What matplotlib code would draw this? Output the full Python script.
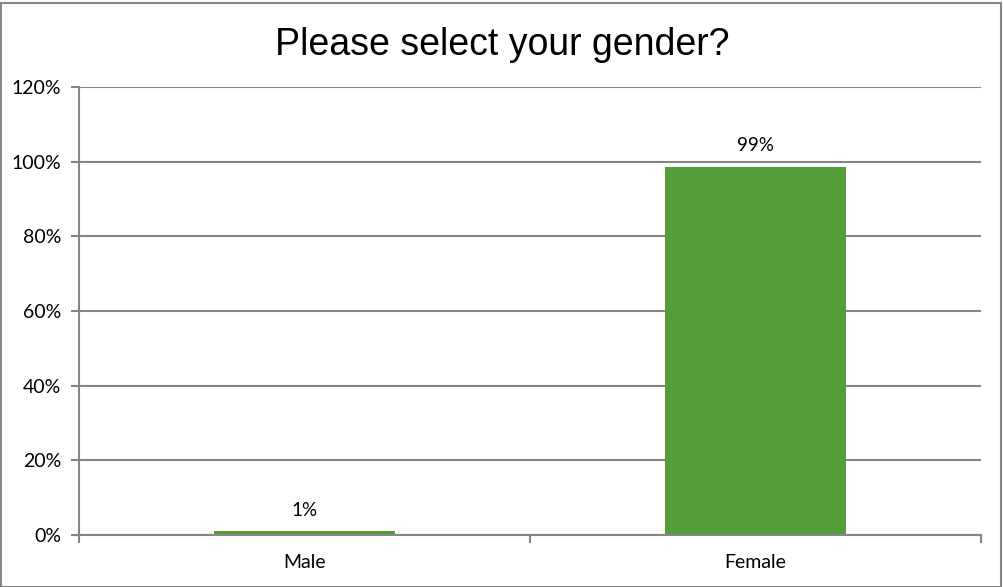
import matplotlib
matplotlib.use("Agg")
import matplotlib.pyplot as plt
from matplotlib.ticker import FuncFormatter, FixedLocator
from matplotlib.patches import Rectangle

categories = ["Male", "Female"]
values = [0.0107, 0.987]
labels = ["1%", "99%"]
yticks = [0, 0.2, 0.4, 0.6, 0.8, 1.0, 1.2]

fig = plt.figure(figsize=(10.04, 5.87), dpi=100)
ax = fig.add_axes([79/1004, 1-535/587, (981-79)/1004, (535-87)/587])

grid_c = "#868686"
x = list(range(len(categories)))
ax.bar(x, values, width=0.4, color="#539E3A", zorder=3)
ax.set_xlim(-0.5, 1.5)
ax.set_ylim(0, 1.2)
ax.set_yticks(yticks)
ax.yaxis.set_major_formatter(FuncFormatter(lambda v, p: f"{v*100:.0f}%"))
ax.set_xticks(x)
ax.set_xticklabels(categories)
ax.xaxis.set_minor_locator(FixedLocator([-0.5, 0.5, 1.5]))
ax.tick_params(axis="x", which="major", length=0, pad=14, labelsize=14)
ax.tick_params(axis="x", which="minor", length=6, width=1.5, color=grid_c, direction="out")
ax.tick_params(axis="y", length=6, width=1.5, color=grid_c, pad=7, labelsize=14)
for lbl in ax.get_xticklabels() + ax.get_yticklabels():
    lbl.set_fontfamily(["Lato", "DejaVu Sans"])
ax.grid(axis="y", color=grid_c, linewidth=1.5, zorder=0)
for s in ["top", "right"]:
    ax.spines[s].set_visible(False)
for s in ["left", "bottom"]:
    ax.spines[s].set_color(grid_c)
    ax.spines[s].set_linewidth(1.5)
ax.spines["bottom"].set_zorder(4)

for xi, v, t in zip(x, values, labels):
    ax.annotate(t, (xi, v), xytext=(0, 9), textcoords="offset points",
                ha="center", va="bottom", fontsize=13.5, family=["Lato", "DejaVu Sans"])

fig.text(0.5, 1-45/587, "Please select your gender?", ha="center", va="center",
         fontsize=27, family=["Liberation Sans", "DejaVu Sans"])

fig.patches.append(Rectangle((0.5/1004, 0.5/587), 1-3/1004, 1-3/587, transform=fig.transFigure,
                             fill=False, edgecolor=grid_c, linewidth=1.5))

fig.savefig("out.png", dpi=100)
